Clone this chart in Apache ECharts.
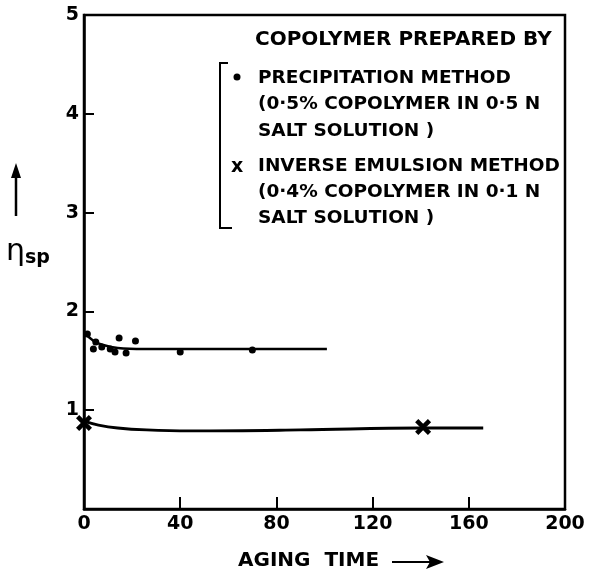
<!DOCTYPE html>
<html>
<head>
<meta charset="utf-8">
<script src="https://cdn.jsdelivr.net/npm/echarts@6/dist/echarts.min.js"></script>
<style>
  html, body { margin: 0; padding: 0; background: #fff; }
  #chart { width: 596px; height: 571px; }
</style>
</head>
<body>
<div id="chart"></div>
<script>
// ---- data ----
const precipTime = [1.4, 3.9, 4.9, 7.4, 10.9, 12.9, 14.6, 17.5, 21.4, 40, 70];
const precipEta  = [1.77, 1.62, 1.69, 1.64, 1.62, 1.59, 1.73, 1.58, 1.70, 1.59, 1.61];
const emulsionTime = [0, 141];
const emulsionEta  = [0.87, 0.83];
// fitted (hand-drawn) curves
const precipCurveTime = [0, 4, 8, 14, 25, 40, 70, 101];
const precipCurveEta  = [1.79, 1.70, 1.66, 1.63, 1.62, 1.62, 1.62, 1.62];
const emulsionCurveTime = [0, 6, 14, 26, 44, 90, 140, 166];
const emulsionCurveEta  = [0.89, 0.85, 0.82, 0.80, 0.79, 0.80, 0.82, 0.82];
// axes
const xMin = 0, xMax = 200, xStep = 40;
const yMin = 0, yMax = 5, yStep = 1;
const xTitle = 'AGING  TIME';
// annotation / legend text
const legendTitle = 'COPOLYMER PREPARED BY';
const legendLines1 = ['PRECIPITATION METHOD', '(0·5% COPOLYMER IN 0·5 N', 'SALT SOLUTION )'];
const legendLines2 = ['INVERSE EMULSION METHOD', '(0·4% COPOLYMER IN 0·1 N', 'SALT SOLUTION )'];

const zip = (a, b) => a.map((v, i) => [v, b[i]]);
const FONT = 'DejaVu Sans';
const crossPath = 'path://M0,2 L2,0 L5,3 L8,0 L10,2 L7,5 L10,8 L8,10 L5,7 L2,10 L0,8 L3,5 Z';

const chart = echarts.init(document.getElementById('chart'), null, { renderer: 'canvas' });

const TF = 'bold 20px "' + FONT + '"';
const LF = 'bold 18.5px "' + FONT + '"';
const graphics = [];
// legend title & lines
graphics.push({ type: 'text', x: 255, y: 40, style: { text: legendTitle, fill: '#000', font: TF, textVerticalAlign: 'middle' } });
const l1y = [78, 104, 131];
const l2y = [166, 192, 218];
legendLines1.forEach((t, i) => graphics.push({ type: 'text', x: 258, y: l1y[i], style: { text: t, fill: '#000', font: LF, textVerticalAlign: 'middle' } }));
legendLines2.forEach((t, i) => graphics.push({ type: 'text', x: 258, y: l2y[i], style: { text: t, fill: '#000', font: LF, textVerticalAlign: 'middle' } }));
// legend symbols
graphics.push({ type: 'circle', shape: { cx: 237, cy: 77, r: 3.5 }, style: { fill: '#000' } });
graphics.push({ type: 'text', x: 231, y: 167, style: { text: 'x', fill: '#000', font: 'bold 19px "' + FONT + '"', textVerticalAlign: 'middle' } });
// bracket
graphics.push({ type: 'polyline', shape: { points: [[228, 63], [220, 63], [220, 228], [232, 228]] }, style: { stroke: '#000', lineWidth: 2, fill: null } });
// y-axis title: arrow + eta_sp
graphics.push({ type: 'line', shape: { x1: 16, y1: 216, x2: 16, y2: 172 }, style: { stroke: '#000', lineWidth: 2.5 } });
graphics.push({ type: 'polygon', shape: { points: [[11, 178], [16, 163], [21, 178]] }, style: { fill: '#000' } });
graphics.push({ type: 'text', x: 6, y: 252, style: {
  text: '{e|η}{s|sp}', textVerticalAlign: 'middle',
  rich: {
    e: { font: '30px "' + FONT + '"', fill: '#000' },
    s: { font: 'bold 19px "' + FONT + '"', fill: '#000', padding: [12, 0, 0, 0] }
  }
} });
// x-axis title + arrow
graphics.push({ type: 'text', x: 238, y: 561, style: { text: xTitle, fill: '#000', font: 'bold 20px "' + FONT + '"', textVerticalAlign: 'middle' } });
graphics.push({ type: 'line', shape: { x1: 392, y1: 562, x2: 434, y2: 562 }, style: { stroke: '#000', lineWidth: 2 } });
graphics.push({ type: 'polygon', shape: { points: [[426, 555], [444, 562], [426, 569], [430, 562]] }, style: { fill: '#000' } });

const option = {
  backgroundColor: '#fff',
  animation: false,
  grid: { left: 84, right: 31, top: 15, bottom: 62, show: true, borderColor: '#000', borderWidth: 2.5, backgroundColor: 'transparent' },
  xAxis: {
    type: 'value', min: xMin, max: xMax, interval: xStep,
    axisLine: { show: true, lineStyle: { color: '#000', width: 2.5 } },
    axisTick: { show: true, inside: true, length: 12, lineStyle: { color: '#000', width: 2 } },
    axisLabel: { color: '#000', fontFamily: FONT, fontWeight: 'bold', fontSize: 19, margin: 6 },
    splitLine: { show: false }
  },
  yAxis: {
    type: 'value', min: yMin, max: yMax, interval: yStep,
    axisLine: { show: true, lineStyle: { color: '#000', width: 2.5 } },
    axisTick: { show: true, inside: true, length: 10, lineStyle: { color: '#000', width: 2 } },
    axisLabel: { color: '#000', fontFamily: FONT, fontWeight: 'bold', fontSize: 19, margin: 5,
      formatter: v => (v === 0 ? '' : String(v)) },
    splitLine: { show: false }
  },
  series: [
    { name: 'precip-curve', type: 'line', data: zip(precipCurveTime, precipCurveEta), smooth: 0.4,
      showSymbol: false, symbol: 'none', lineStyle: { color: '#000', width: 2.5 }, z: 2 },
    { name: 'emulsion-curve', type: 'line', data: zip(emulsionCurveTime, emulsionCurveEta), smooth: 0.4,
      showSymbol: false, symbol: 'none', lineStyle: { color: '#000', width: 2.8 }, z: 2 },
    { name: 'Precipitation method', type: 'scatter', data: zip(precipTime, precipEta), symbol: 'circle', symbolSize: 7,
      itemStyle: { color: '#000', opacity: 1 }, z: 3 },
    { name: 'Inverse emulsion method', type: 'scatter', data: zip(emulsionTime, emulsionEta), symbol: crossPath, symbolSize: 16,
      itemStyle: { color: '#000', opacity: 1 }, z: 3 }
  ],
  graphic: graphics
};
chart.setOption(option);
</script>
</body>
</html>
